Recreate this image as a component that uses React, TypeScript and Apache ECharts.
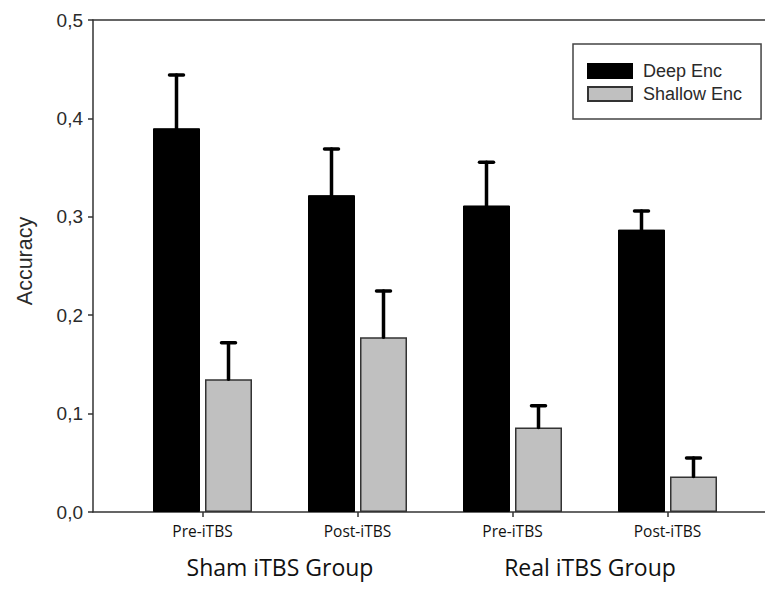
import React, { useEffect, useRef } from "react";
import * as echarts from "echarts";

const categories = ["Pre-iTBS", "Post-iTBS", "Pre-iTBS", "Post-iTBS"];
const groups = ["Sham iTBS Group", "Real iTBS Group"];
const deepMean = [0.39, 0.322, 0.3115, 0.287];
const deepErr = [0.054, 0.047, 0.044, 0.019];
const shallowMean = [0.135, 0.1775, 0.086, 0.036];
const shallowErr = [0.037, 0.047, 0.022, 0.019];
const seriesNames = ["Deep Enc", "Shallow Enc"];

const BAR_W = 47;
const BAR_GAP_PX = 5;
const OFFSET = (BAR_W + BAR_GAP_PX) / 2;
const AXIS_COLOR = "#333";
const TEXT_COLOR = "#2a2a2a";

function errorRender(offset: number) {
  return (params: any, api: any) => {
    const cat = api.value(0);
    const base = api.coord([cat, api.value(1)]);
    const top = api.coord([cat, api.value(2)]);
    const x = base[0] + offset;
    const style = { stroke: "#000", lineWidth: 3.5, lineCap: "round" };
    return {
      type: "group",
      children: [
        { type: "line", shape: { x1: x, y1: base[1], x2: x, y2: top[1] }, style },
        { type: "line", shape: { x1: x - 7, y1: top[1], x2: x + 7, y2: top[1] }, style },
      ],
    };
  };
}

export default function App() {
  const ref = useRef<HTMLDivElement>(null);
  useEffect(() => {
    if (!ref.current) return;
    const chart = echarts.init(ref.current, null, { renderer: "svg" });
    const deepErrData = deepMean.map((m, i) => [i, m, m + deepErr[i]]);
    const shallowErrData = shallowMean.map((m, i) => [i, m, m + shallowErr[i]]);
    chart.setOption({
      animation: false,
      backgroundColor: "#fff",
      grid: [
        { left: 125, right: 20, top: 20, bottom: 77 },
        { left: 93, right: 0, top: 20, bottom: 77 },
      ],
      legend: {
        orient: "vertical",
        left: 573,
        top: 44,
        padding: [18, 19, 16, 14],
        itemWidth: 44,
        itemHeight: 14,
        itemGap: 5,
        borderColor: "#444",
        borderWidth: 1.5,
        backgroundColor: "#fff",
        icon: "rect",
        data: seriesNames,
        textStyle: {
          fontFamily: "Liberation Sans",
          fontSize: 18,
          color: TEXT_COLOR,
          lineHeight: 14,
          padding: [0, 0, 0, 6],
        },
      },
      xAxis: [
        {
          type: "category",
          gridIndex: 0,
          data: categories,
          axisLine: { show: false },
          axisTick: { show: true, alignWithLabel: true, length: 5, lineStyle: { color: AXIS_COLOR, width: 1.5 } },
          axisLabel: { margin: 11, fontFamily: "Open Sans", fontSize: 15.5, color: "#111" },
          splitLine: { show: false },
        },
        {
          type: "category",
          gridIndex: 0,
          position: "bottom",
          data: groups,
          axisLine: { show: false },
          axisTick: { show: false },
          axisLabel: { margin: 43, fontFamily: "Open Sans", fontSize: 23, color: "#111" },
        },
        {
          type: "value",
          gridIndex: 1,
          position: "bottom",
          min: 0,
          max: 1,
          axisLine: { show: true, onZero: false, lineStyle: { color: AXIS_COLOR, width: 1.5 } },
          axisTick: { show: false },
          axisLabel: { show: false },
          splitLine: { show: false },
        },
        {
          type: "value",
          gridIndex: 1,
          position: "top",
          min: 0,
          max: 1,
          axisLine: { show: true, onZero: false, lineStyle: { color: AXIS_COLOR, width: 1.5 } },
          axisTick: { show: false },
          axisLabel: { show: false },
          splitLine: { show: false },
        },
      ],
      yAxis: [
        {
          type: "value",
          gridIndex: 0,
          min: 0,
          max: 0.5,
          interval: 0.1,
          show: false,
        },
        {
          type: "value",
          gridIndex: 1,
          min: 0,
          max: 0.5,
          interval: 0.1,
          name: "Accuracy",
          nameLocation: "middle",
          nameGap: 57,
          nameTextStyle: {
            fontFamily: "Liberation Sans",
            fontSize: 21.5,
            color: TEXT_COLOR,
            padding: [0, 0, 0, 10],
          },
          axisLine: { show: true, onZero: false, lineStyle: { color: AXIS_COLOR, width: 1.5 } },
          axisTick: { show: true, inside: false, length: 5, lineStyle: { color: AXIS_COLOR, width: 1.5 } },
          axisLabel: {
            margin: 10,
            fontFamily: "Liberation Sans",
            fontSize: 19,
            color: TEXT_COLOR,
            formatter: (v: number) => v.toFixed(1).replace(".", ","),
          },
          splitLine: { show: false },
        },
      ],
      series: [
        {
          name: seriesNames[0],
          type: "bar",
          xAxisIndex: 0,
          yAxisIndex: 0,
          data: deepMean,
          barWidth: BAR_W,
          barGap: (BAR_GAP_PX / BAR_W) * 100 + "%",
          itemStyle: { color: "#000", borderColor: "#000", borderWidth: 1 },
          z: 2,
        },
        {
          name: seriesNames[1],
          type: "bar",
          xAxisIndex: 0,
          yAxisIndex: 0,
          data: shallowMean,
          barWidth: BAR_W,
          itemStyle: { color: "#c0c0c0", borderColor: "#333", borderWidth: 1.5 },
          z: 2,
        },
        {
          type: "custom",
          xAxisIndex: 0,
          yAxisIndex: 0,
          data: deepErrData,
          encode: { x: 0, y: [1, 2] },
          renderItem: errorRender(-OFFSET),
          z: 3,
          silent: true,
        },
        {
          type: "custom",
          xAxisIndex: 0,
          yAxisIndex: 0,
          data: shallowErrData,
          encode: { x: 0, y: [1, 2] },
          renderItem: errorRender(OFFSET),
          z: 3,
          silent: true,
        },
      ],
    });
    return () => chart.dispose();
  }, []);
  return (
    <div
      ref={ref}
      style={{ position: "fixed", left: 0, top: 0, width: 765, height: 589, background: "#fff" }}
    />
  );
}
